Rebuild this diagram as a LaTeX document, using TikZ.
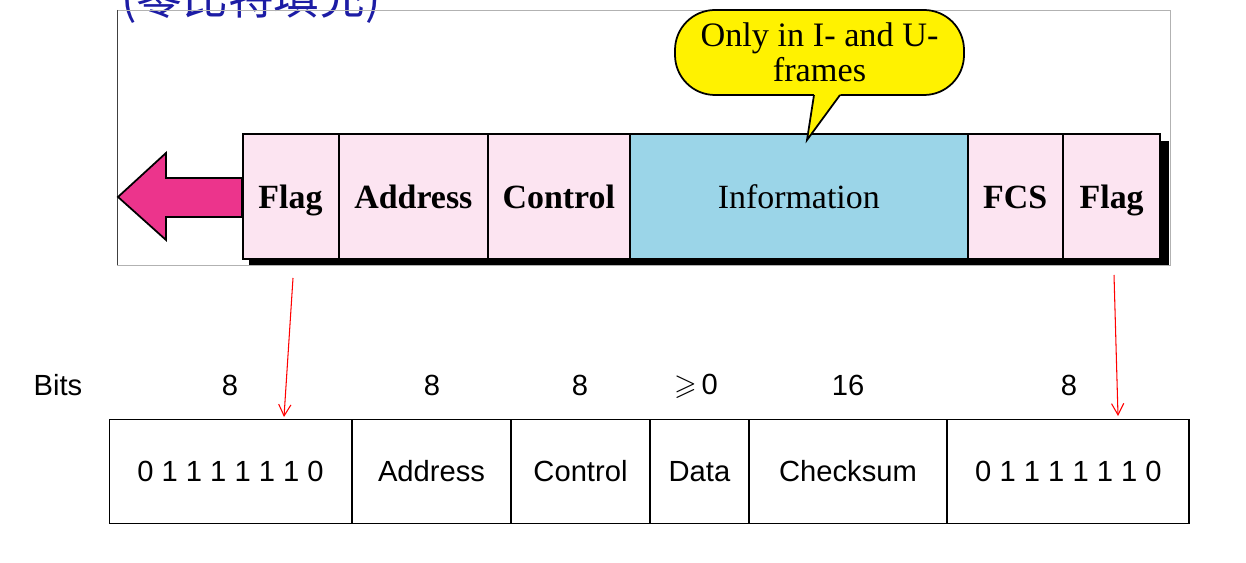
\documentclass[tikz,border=0pt]{standalone}
\usepackage{fontspec}
\usepackage{amssymb}
\usepackage{tikz}
\usetikzlibrary{shapes.multipart,arrows.meta}
\usepackage{xcolor}
\newfontfamily\serf{Liberation Serif}
\newfontfamily\sansf{Liberation Sans}
\newfontfamily\cjk{Noto Sans CJK SC}
\newdimen\unitpx \unitpx=0.02cm
\newcommand\topcell[2]{\makebox[#1\unitpx]{\rule[-50\unitpx]{0pt}{125\unitpx}#2}}
\newcommand\bitcell[2]{\makebox[#1\unitpx]{\rule[-42\unitpx]{0pt}{104\unitpx}#2}}
\definecolor{flagpink}{RGB}{252,228,241}
\definecolor{infoblue}{RGB}{155,213,232}
\definecolor{arrowpink}{RGB}{236,52,140}
\definecolor{titleblue}{RGB}{28,28,165}

\begin{document}
\begin{tikzpicture}[x=0.02cm, y=-0.02cm,
  hdlc/.style={rectangle split, rectangle split horizontal, rectangle split parts=6, draw, line width=1.1pt,
    inner sep=0pt, anchor=north west, font=\serf\fontsize{19.3}{23}\selectfont,
    rectangle split part fill={flagpink,flagpink,flagpink,infoblue,flagpink,flagpink}},
  bitrow/.style={rectangle split, rectangle split horizontal, rectangle split parts=6, draw, line width=0.85pt,
    inner sep=0pt, anchor=north west, font=\sansf\fontsize{16.6}{20}\selectfont},
  bitlabel/.style={inner sep=0pt, font=\sansf\fontsize{16.6}{20}\selectfont},
  note/.style={draw, line width=1pt, fill=yellow, inner sep=0pt, align=center, rounded corners=40\unitpx,
    minimum width=289\unitpx, minimum height=85\unitpx, font=\serf\fontsize{19.5}{19.9}\selectfont},
  bigarrow/.style={draw=black, line width=1pt, fill=arrowpink, line join=miter},
  flagarrow/.style={red, line width=0.6pt, -{Straight Barb[length=6.5pt,width=7pt]}}]
  \useasboundingbox (0,0) rectangle (1246,563);
  \clip (0,0) rectangle (1246,563);

  \node[anchor=base west, inner sep=0pt, text=titleblue, font=\cjk\fontsize{26}{30}\selectfont] (title) at (121,15) {(零比特填充)};
  \draw[gray!60] (117,10) -- (1170,10) -- (1170,265) -- (117,265);
  \draw[black!75] (117,10) -- (117,265);

  \fill[black] (249,141) rectangle (1169,265);
  \node[hdlc] (frame) at (242,133) {
  \nodepart{one}\topcell{95}{\bfseries Flag}
  \nodepart{two}\topcell{147}{\bfseries Address}
  \nodepart{three}\topcell{140}{\bfseries Control}
  \nodepart{four}\topcell{336}{Information}
  \nodepart{five}\topcell{93}{\bfseries FCS}
  \nodepart{six}\topcell{96}{\bfseries Flag}
  };
  \draw[bigarrow] (frame.west) ++(0,-18.5) -- ++(-76,0) -- ++(0,-25) -- ++(-48,44)
    -- ++(48,43) -- ++(0,-23) -- ++(76,0) -- cycle;

  \node[note] (only) at (819.5,52.5) {Only in I- and U-\\frames};
  \coordinate (tip) at (807,140);
  \coordinate (tailL) at (814,95);
  \coordinate (tailR) at (840,95);
  \fill[yellow] (814.5,92) -- (tip) -- (842.2,92) -- cycle;
  \draw[line width=1pt, line join=miter] (tailL) -- (tip) -- (tailR);

  \node[bitlabel] (bitsword) at (58,385) {Bits};
  \node[bitlabel] (w1) at (230,385) {8};
  \node[bitlabel] (w2) at (432,385) {8};
  \node[bitlabel] (w3) at (580,385) {8};
  \node[bitlabel] (w4) at (696,386) {$\geqslant$\,0};
  \node[bitlabel] (w5) at (848,385) {16};
  \node[bitlabel] (w6) at (1069,385) {8};

  \node[bitrow] (bits) at (109,419) {
  \nodepart{one}\bitcell{241.5}{0 1 1 1 1 1 1 0}
  \nodepart{two}\bitcell{157.5}{Address}
  \nodepart{three}\bitcell{137.5}{Control}
  \nodepart{four}\bitcell{97.5}{Data}
  \nodepart{five}\bitcell{196.5}{Checksum}
  \nodepart{six}\bitcell{241.5}{0 1 1 1 1 1 1 0}
  };

  \coordinate (fromL) at (293,278);
  \coordinate (toL) at (284,417);
  \coordinate (fromR) at (1114,275);
  \coordinate (toR) at (1118,416);
  \draw[flagarrow] (fromL) -- (toL);
  \draw[flagarrow] (fromR) -- (toR);
\end{tikzpicture}
\end{document}
